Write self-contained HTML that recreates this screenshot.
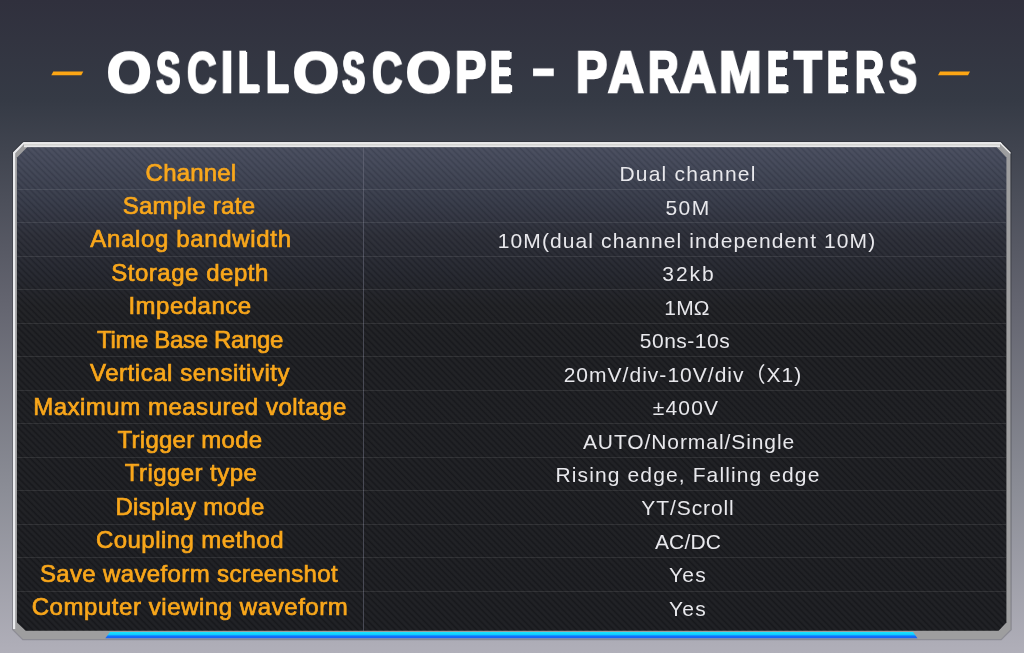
<!DOCTYPE html>
<html><head><meta charset="utf-8"><title>Oscilloscope - Parameters</title>
<style>
html,body{margin:0;padding:0}
body{width:1024px;height:653px;position:relative;overflow:hidden;
background:linear-gradient(180deg,#30303d 0px,#353a45 100px,#63646f 300px,#8a8c95 485px,#b0afb9 653px);}
.title{position:absolute;left:0;top:0;margin:0;width:1024px;height:140px;font-size:0;color:transparent}
.tl{position:absolute;white-space:nowrap;color:#ffffff;font-family:"Liberation Sans",Arial,sans-serif;font-weight:bold;font-size:56.5px;line-height:56.5px;-webkit-text-stroke:2.6px #ffffff;transform-origin:0 0;will-change:transform}
.dash{position:absolute;height:3.8px;background:#fda614;transform:skewX(-28deg)}
.frame{position:absolute;left:0;top:0}
.lt{position:absolute;white-space:nowrap;transform:translateX(-50%);color:#f9a71b;font-family:"Liberation Sans",Arial,sans-serif;font-size:24px;line-height:24px;-webkit-text-stroke:0.7px #f9a71b;will-change:transform}
.rt{position:absolute;white-space:nowrap;transform:translateX(-50%);color:#e8e8ec;font-family:"Liberation Sans","Noto Sans CJK SC",sans-serif;font-size:21px;line-height:21px;will-change:transform}
.hl{position:absolute;left:17px;width:989.3px;height:1px;background:rgba(255,255,255,.09)}
.vl{position:absolute;left:363px;top:147px;width:1px;height:484px;background:rgba(110,112,128,.55)}
</style></head><body>
<svg class="frame" width="1024" height="653" viewBox="0 0 1024 653">
<defs>
<linearGradient id="inner" x1="0" y1="147" x2="0" y2="631" gradientUnits="userSpaceOnUse">
<stop offset="0" stop-color="#454a5c"/>
<stop offset="0.027" stop-color="#414657"/>
<stop offset="0.122" stop-color="#323644"/>
<stop offset="0.184" stop-color="#282a34"/>
<stop offset="0.258" stop-color="#21232b"/>
<stop offset="0.329" stop-color="#1b1c20"/>
<stop offset="0.397" stop-color="#191a1e"/>
<stop offset="1" stop-color="#18191d"/>
</linearGradient>
<linearGradient id="sg" x1="0" y1="0" x2="1" y2="0">
<stop offset="0" stop-color="#fff" stop-opacity="0.045"/>
<stop offset="0.5" stop-color="#000" stop-opacity="0.07"/>
<stop offset="1" stop-color="#fff" stop-opacity="0.045"/>
</linearGradient>
<pattern id="stripes" width="4.42" height="10" patternUnits="userSpaceOnUse" patternTransform="rotate(-45)">
<rect x="0" y="0" width="4.42" height="10" fill="url(#sg)"/>
</pattern>
<linearGradient id="blue" x1="0" y1="632" x2="0" y2="638.5" gradientUnits="userSpaceOnUse">
<stop offset="0" stop-color="#19e6ff"/><stop offset="0.45" stop-color="#11c8ff"/><stop offset="0.6" stop-color="#1174ff"/><stop offset="1" stop-color="#1a5cf0"/>
</linearGradient>
</defs>
<polygon points="53.3,71.5 83.3,71.5 81.3,75.3 51.3,75.3" fill="#fda614"/>
<polygon points="940,71.6 970,71.6 968,75.3 938,75.3" fill="#fda614"/>
<!-- shadow -->
<polygon points="23,141 1001,141 1011.8,151.8 1011.8,630 1001.5,640.3 22.5,640.3 12,629.8 12,152" fill="#000" fill-opacity="0.18"/>
<!-- outer frame (gray) -->
<polygon points="23.3,142.2 1000.7,142.2 1010.4,152 1010.4,629.6 1001,639 23,639 13,629 13,152.6" fill="#9e9e9f"/>
<!-- left white strip -->
<polygon points="13,152.6 23.3,142.2 1000.7,142.2 1002,144 24,144 15.2,153.3 15.2,629 13,629" fill="#ebecef"/>
<!-- top bright band -->
<rect x="24" y="142.2" width="976" height="5" fill="#e9e9ea"/>
<rect x="24" y="144" width="976" height="1.6" fill="#d5d5d2"/>
<polygon points="1000.2,142.2 1010.4,152.4 1010.4,154 1000,143.8" fill="#f2f2f2"/>
<!-- inner panel -->
<polygon points="27.2,147.2 996.9,147.2 1006.4,157.5 1006.4,622.4 998.6,630.8 25.7,630.8 17,622.4 17,157.5" fill="url(#inner)"/>
<polygon points="27.2,147.2 996.9,147.2 1006.4,157.5 1006.4,622.4 998.6,630.8 25.7,630.8 17,622.4 17,157.5" fill="url(#stripes)"/>
<!-- blue bar -->
<polygon points="110,632 913,632 917.5,638.3 105.3,638.3" fill="url(#blue)"/>
</svg>
<div class="vl"></div>
<div class="hl" style="top:188.50px"></div><div class="hl" style="top:222.00px"></div><div class="hl" style="top:255.50px"></div><div class="hl" style="top:289.00px"></div><div class="hl" style="top:322.50px"></div><div class="hl" style="top:356.00px"></div><div class="hl" style="top:389.50px"></div><div class="hl" style="top:423.00px"></div><div class="hl" style="top:456.50px"></div><div class="hl" style="top:490.00px"></div><div class="hl" style="top:523.50px"></div><div class="hl" style="top:557.00px"></div><div class="hl" style="top:590.50px"></div>
<h1 class="title"><span class="tl" style="left:107.09px;top:45.84px;transform:scaleX(1.010) scaleY(0.98)">O</span><span class="tl" style="left:155.50px;top:45.84px;transform:scaleX(0.631) scaleY(0.98);text-shadow:0.83px 0 0 #fff,1.65px 0 0 #fff,2.48px 0 0 #fff">S</span><span class="tl" style="left:186.58px;top:45.84px;transform:scaleX(0.721) scaleY(0.98);text-shadow:0.79px 0 0 #fff">C</span><span class="tl" style="left:221.05px;top:45.30px;transform:scaleX(0.773)">I</span><span class="tl" style="left:238.30px;top:45.30px;transform:scaleX(0.600);text-shadow:0.79px 0 0 #fff,1.58px 0 0 #fff,2.37px 0 0 #fff,3.17px 0 0 #fff">L</span><span class="tl" style="left:266.09px;top:45.30px;transform:scaleX(0.657);text-shadow:0.64px 0 0 #fff,1.29px 0 0 #fff,1.93px 0 0 #fff">L</span><span class="tl" style="left:292.85px;top:45.84px;transform:scaleX(1.045) scaleY(0.98)">O</span><span class="tl" style="left:342.00px;top:45.84px;transform:scaleX(0.581) scaleY(0.98);text-shadow:0.73px 0 0 #fff,1.45px 0 0 #fff,2.18px 0 0 #fff,2.91px 0 0 #fff,3.64px 0 0 #fff">S</span><span class="tl" style="left:371.96px;top:45.84px;transform:scaleX(0.741) scaleY(0.98);text-shadow:0.47px 0 0 #fff">C</span><span class="tl" style="left:405.88px;top:45.84px;transform:scaleX(1.024) scaleY(0.98)">O</span><span class="tl" style="left:454.74px;top:45.30px;transform:scaleX(0.829)">P</span><span class="tl" style="left:489.78px;top:45.30px;transform:scaleX(0.558);text-shadow:0.70px 0 0 #fff,1.41px 0 0 #fff,2.11px 0 0 #fff,2.82px 0 0 #fff,3.52px 0 0 #fff,4.22px 0 0 #fff">E</span> <span class="tl" style="left:532.08px;top:46.80px;transform:scaleX(1.218) scaleY(0.800)">-</span> <span class="tl" style="left:575.54px;top:45.30px;transform:scaleX(0.829)">P</span><span class="tl" style="left:608.30px;top:45.30px;transform:scaleX(0.873)">A</span><span class="tl" style="left:647.80px;top:45.30px;transform:scaleX(0.752);text-shadow:0.31px 0 0 #fff">R</span><span class="tl" style="left:680.00px;top:45.30px;transform:scaleX(0.883)">A</span><span class="tl" style="left:719.10px;top:45.30px;transform:scaleX(0.902)">M</span><span class="tl" style="left:767.04px;top:45.30px;transform:scaleX(0.529);text-shadow:0.72px 0 0 #fff,1.45px 0 0 #fff,2.17px 0 0 #fff,2.89px 0 0 #fff,3.62px 0 0 #fff,4.34px 0 0 #fff,5.06px 0 0 #fff">E</span><span class="tl" style="left:793.91px;top:45.30px;transform:scaleX(0.806)">T</span><span class="tl" style="left:826.96px;top:45.30px;transform:scaleX(0.521);text-shadow:0.76px 0 0 #fff,1.52px 0 0 #fff,2.28px 0 0 #fff,3.04px 0 0 #fff,3.80px 0 0 #fff,4.56px 0 0 #fff,5.32px 0 0 #fff">E</span><span class="tl" style="left:854.88px;top:45.30px;transform:scaleX(0.710);text-shadow:0.97px 0 0 #fff">R</span><span class="tl" style="left:888.70px;top:45.84px;transform:scaleX(0.742) scaleY(0.98);text-shadow:0.45px 0 0 #fff">S</span></h1>
<div class="lt" style="top:160.58px;left:190.50px;letter-spacing:0.200px">Channel</div><div class="rt" style="top:163.12px;left:688.00px;letter-spacing:1.218px">Dual channel</div><div class="lt" style="top:194.01px;left:189.20px;letter-spacing:0.300px">Sample rate</div><div class="rt" style="top:196.55px;left:688.20px;letter-spacing:1.400px">50M</div><div class="lt" style="top:227.44px;left:190.50px;letter-spacing:0.660px">Analog bandwidth</div><div class="rt" style="top:229.98px;left:686.70px;letter-spacing:1.106px">10M(dual channel independent 10M)</div><div class="lt" style="top:260.87px;left:190.00px;letter-spacing:0.533px">Storage depth</div><div class="rt" style="top:263.41px;left:689.40px;letter-spacing:1.933px">32kb</div><div class="lt" style="top:294.30px;left:190.00px;letter-spacing:0.500px">Impedance</div><div class="rt" style="top:296.84px;left:687.00px;letter-spacing:0.200px">1MΩ</div><div class="lt" style="top:327.73px;left:190.10px;letter-spacing:-0.343px">Time Base Range</div><div class="rt" style="top:330.27px;left:685.00px;letter-spacing:0.486px">50ns-10s</div><div class="lt" style="top:361.16px;left:190.00px;letter-spacing:0.532px">Vertical sensitivity</div><div class="rt" style="top:363.70px;left:682.80px;letter-spacing:1.021px">20mV/div-10V/div（X1)</div><div class="lt" style="top:394.59px;left:190.00px;letter-spacing:0.509px">Maximum measured voltage</div><div class="rt" style="top:397.13px;left:685.70px;letter-spacing:1.150px">±400V</div><div class="lt" style="top:428.02px;left:190.30px;letter-spacing:0.245px">Trigger mode</div><div class="rt" style="top:430.56px;left:688.50px;letter-spacing:0.918px">AUTO/Normal/Single</div><div class="lt" style="top:461.45px;left:191.00px;letter-spacing:0.445px">Trigger type</div><div class="rt" style="top:463.99px;left:687.60px;letter-spacing:1.117px">Rising edge, Falling edge</div><div class="lt" style="top:494.88px;left:189.50px;letter-spacing:0.318px">Display mode</div><div class="rt" style="top:497.42px;left:688.40px;letter-spacing:0.900px">YT/Scroll</div><div class="lt" style="top:528.31px;left:189.50px;letter-spacing:0.429px">Coupling method</div><div class="rt" style="top:530.85px;left:687.70px;letter-spacing:0.150px">AC/DC</div><div class="lt" style="top:561.74px;left:188.90px;letter-spacing:0.361px">Save waveform screenshot</div><div class="rt" style="top:564.28px;left:687.80px;letter-spacing:1.200px">Yes</div><div class="lt" style="top:595.17px;left:189.90px;letter-spacing:0.558px">Computer viewing waveform</div><div class="rt" style="top:597.71px;left:687.80px;letter-spacing:1.200px">Yes</div>
</body></html>
